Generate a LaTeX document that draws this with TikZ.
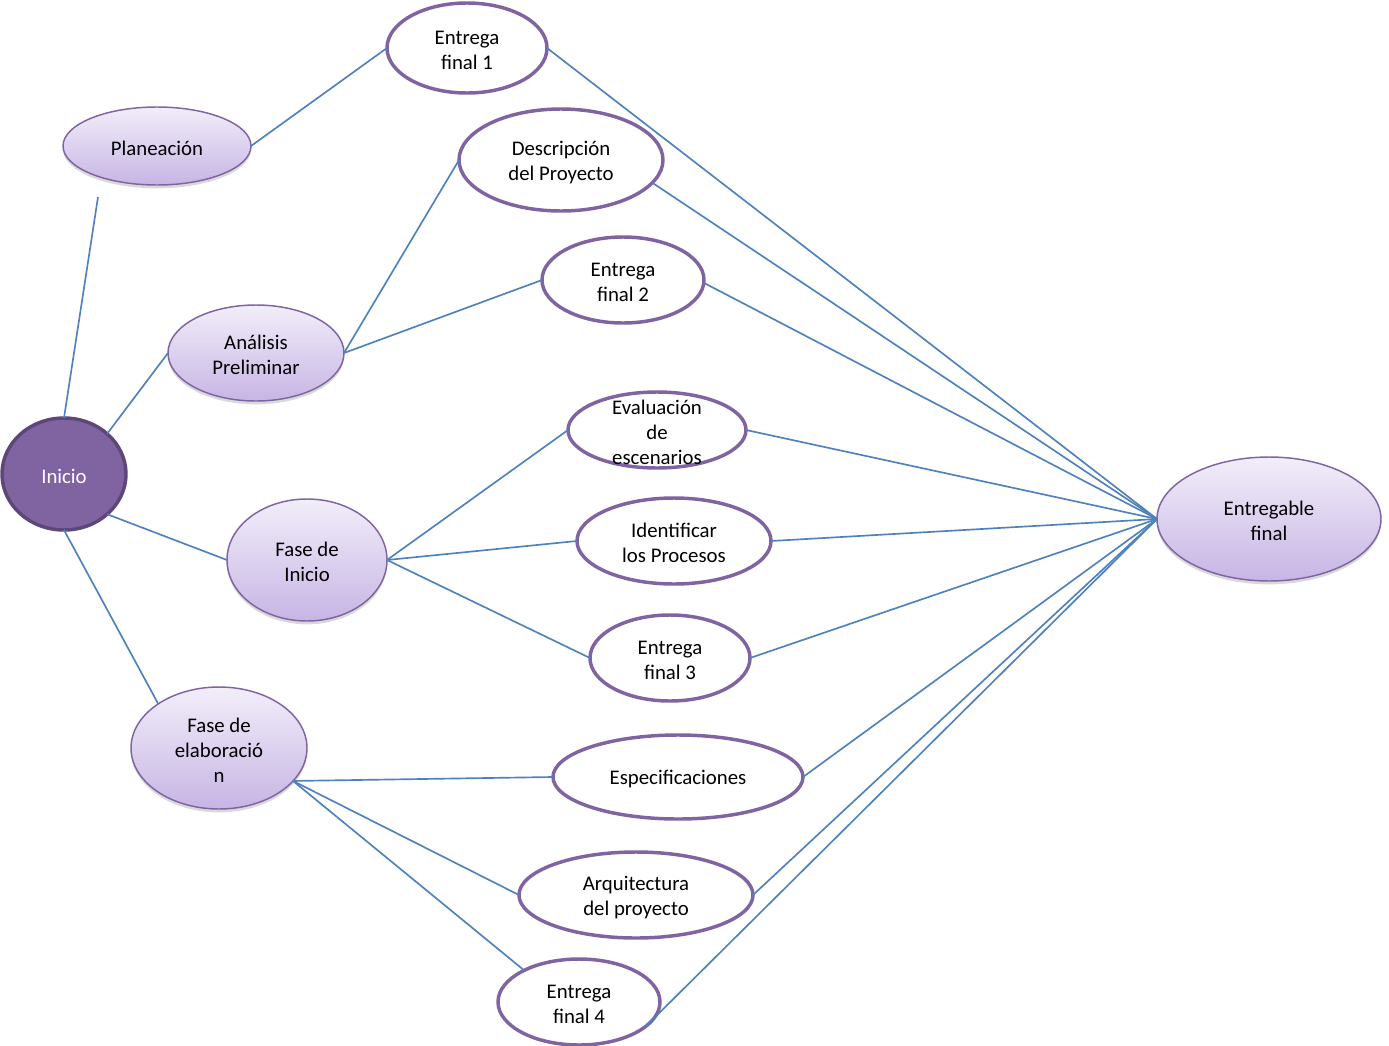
\documentclass[tikz,border=0pt]{standalone}
\usepackage{fontspec}
\setmainfont{Carlito}
\usetikzlibrary{shapes.geometric,shadows}
\definecolor{ln}{HTML}{4F81BD}
\definecolor{pur}{HTML}{8064A2}
\definecolor{purdk}{RGB}{93,71,120}
\definecolor{gtop}{RGB}{242,238,250}
\definecolor{gbot}{RGB}{199,181,228}
\begin{document}
\begin{tikzpicture}[x=0.75pt,y=-0.75pt,
  base/.style={ellipse, inner sep=0pt, outer sep=0pt},
  sz/.style 2 args={minimum width=#1*1.5pt, minimum height=#2*1.5pt},
  soft/.style={base, draw=pur, line width=1.1pt, top color=gtop, bottom color=gbot,
    drop shadow={shadow xshift=0pt, shadow yshift=-2.5pt, opacity=0.25, fill=black!60}},
  ring/.style={base, draw=pur, line width=2.6pt, fill=white},
  dark/.style={base, draw=purdk, line width=2.6pt, fill=pur},
  txt/.style={align=center, inner sep=0pt, yshift=-1.6pt, font=\fontsize{15.6}{18.75}\selectfont},
  con/.style={draw=ln, line width=1.25pt}
]
\useasboundingbox (0,0) rectangle (1389,1046);

% nodes
\node[dark, sz={62}{56}] (ini) at (64,474) {};
\node[txt, text=white] (ini-t) at (ini) {Inicio};

\node[soft, sz={94}{39}] (plan) at (157,146) {};
\node[txt] (plan-t) at (plan) {Planeación};

\node[ring, sz={80}{45}] (ef1) at (467,48) {};
\node[txt] (ef1-t) at (ef1) {Entrega\\final 1};

\node[ring, sz={102}{51}] (desc) at (561,160) {};
\node[txt] (desc-t) at (desc) {Descripción\\del Proyecto};

\node[ring, sz={81}{43}] (ef2) at (623,280) {};
\node[txt] (ef2-t) at (ef2) {Entrega\\final 2};

\node[soft, sz={88}{48}] (ana) at (256,353) {};
\node[txt] (ana-t) at (ana) {Análisis\\Preliminar};

\node[ring, sz={89}{38}] (eval) at (657,430) {};
\node[txt] (eval-t) at (eval) {Evaluación\\de\\escenarios};

\node[soft, sz={80}{61}] (fin) at (307,560) {};
\node[txt] (fin-t) at (fin) {Fase de\\Inicio};

\node[ring, sz={97}{43}] (ident) at (674,541) {};
\node[txt] (ident-t) at (ident) {Identificar\\los Procesos};

\node[ring, sz={80}{43}] (ef3) at (670,658) {};
\node[txt] (ef3-t) at (ef3) {Entrega\\final 3};

\node[soft, sz={88}{61}] (fel) at (219,748) {};
\node[txt] (fel-t) at (fel) {Fase de\\elaboració\\n};

\node[ring, sz={125}{42}] (esp) at (678,777) {};
\node[txt] (esp-t) at (esp) {Especificaciones};

\node[ring, sz={117}{43}] (arq) at (636,895) {};
\node[txt] (arq-t) at (arq) {Arquitectura\\del proyecto};

\node[ring, sz={81}{43}] (ef4) at (579,1002) {};
\node[txt] (ef4-t) at (ef4) {Entrega\\final 4};

\node[soft, sz={112}{62}] (ent) at (1269,519) {};
\node[txt] (ent-t) at (ent) {Entregable\\final};

\coordinate (loose) at (98,197);

% connectors
\draw[con] (ini.90) -- (loose);
\draw[con] (plan.0) -- (ef1.180);
\draw[con] (ini.43) -- (ana.180);
\draw[con] (ana.0) -- (desc.180);
\draw[con] (ana.0) -- (ef2.180);
\draw[con] (ini.-43) -- (fin.180);
\draw[con] (ini.-90) -- (fel.144.6);
\draw[con] (fin.0) -- (eval.180);
\draw[con] (fin.0) -- (ident.180);
\draw[con] (fin.0) -- (ef3.180);
\draw[con] (fel.-24) -- (esp.180);
\draw[con] (fel.-24) -- (arq.180);
\draw[con] (fel.-24) -- (ef4.150.7);

\draw[con] (ef1.0) -- (ent.180);
\draw[con] (desc.-14) -- (ent.180);
\draw[con] (ef2.-2) -- (ent.180);
\draw[con] (eval.0) -- (ent.180);
\draw[con] (ident.0) -- (ent.180);
\draw[con] (ef3.0) -- (ent.180);
\draw[con] (esp.0) -- (ent.180);
\draw[con] (arq.0) -- (ent.180);
\draw[con] (ef4.-20) -- (ent.180);
\end{tikzpicture}
\end{document}
